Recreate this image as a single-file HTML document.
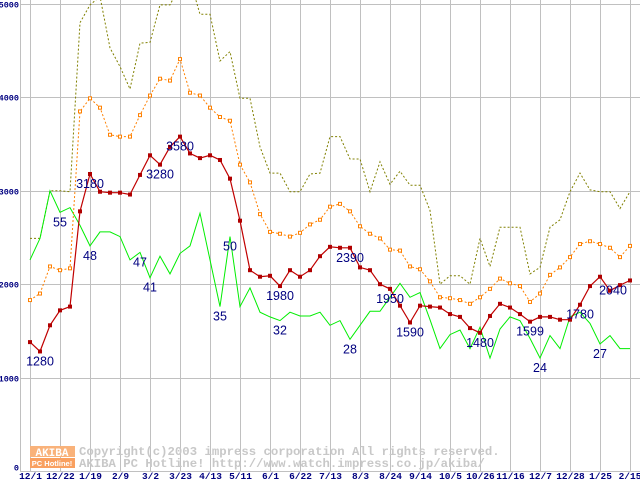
<!DOCTYPE html>
<html><head><meta charset="utf-8"><style>
html,body{margin:0;padding:0;background:#fff;width:640px;height:480px;overflow:hidden}
svg{display:block}
</style></head><body>
<svg id="chart" width="640" height="480" viewBox="0 0 640 480" xmlns="http://www.w3.org/2000/svg">
<g id="grid"></g>
<g id="watermark">
  <rect x="30" y="446" width="45" height="11" fill="#f9b27a"/>
  <rect x="30" y="458" width="45" height="10" fill="#f9a060"/>
  <text x="52" y="456" text-anchor="middle" font-family="Liberation Mono, monospace" font-weight="bold" font-size="11" fill="#fff">AKIBA</text>
  <text x="52" y="466" text-anchor="middle" font-family="Liberation Sans, sans-serif" font-weight="bold" font-size="7.5" fill="#fff">PC Hotline!</text>
  <text x="79" y="455" font-family="Liberation Mono, monospace" font-weight="bold" font-size="12.3" fill="#c8c8c8">Copyright(c)2003 impress corporation All rights reserved.</text>
  <text x="79" y="467" font-family="Liberation Mono, monospace" font-weight="bold" font-size="12.3" fill="#c8c8c8">AKIBA PC Hotline!  http://www.watch.impress.co.jp/akiba/</text>
</g>
<g id="series" clip-path="url(#plotclip)"></g>
<g id="labels"></g>
<g id="axes"></g>
<defs><clipPath id="plotclip"><rect x="20" y="0" width="620" height="472"/></clipPath></defs>
</svg>
<script>
const xTickLabels = ["12/1","12/22","1/19","2/9","3/2","3/23","4/13","5/11","6/1","6/22","7/13","8/3","8/24","9/14","10/5","10/26","11/16","12/7","12/28","1/25","2/15"];
const yTicks = [0,1000,2000,3000,4000,5000];
const redSeries = [1380,1280,1560,1720,1760,2780,3180,2990,2980,2980,2960,3170,3380,3280,3470,3580,3400,3350,3380,3330,3130,2680,2150,2080,2090,1980,2150,2080,2150,2300,2400,2390,2390,2180,2150,2000,1950,1770,1590,1770,1760,1750,1680,1650,1530,1480,1660,1790,1750,1680,1599,1650,1650,1620,1620,1780,1980,2080,1930,1990,2040];
const orangeSeries = [1830,1900,2190,2150,2170,3850,3990,3890,3600,3580,3580,3810,4020,4200,4180,4410,4050,4020,3890,3790,3750,3280,3090,2750,2560,2540,2510,2550,2640,2690,2830,2860,2780,2620,2540,2490,2370,2360,2190,2160,2030,1860,1850,1830,1790,1860,1950,2060,2010,1980,1810,1900,2100,2180,2290,2430,2460,2430,2390,2290,2410];
const oliveSeries = [2490,2490,3000,3000,2990,4800,4990,5080,4530,4330,4090,4580,4590,4990,4990,5200,5260,4890,4890,4390,4490,3990,3990,3470,3190,3190,2990,2990,3180,3190,3580,3580,3340,3340,2990,3310,3070,3210,3060,3060,2790,2000,2090,2090,2000,2490,2190,2610,2610,2610,2110,2180,2610,2690,2990,3190,3010,2990,2990,2810,2990];
const greenSeries = [2260,2490,3000,2770,2820,2630,2410,2560,2560,2510,2260,2340,2070,2300,2110,2330,2410,2760,2260,1760,2510,1760,1960,1700,1650,1610,1700,1660,1660,1700,1560,1610,1410,1560,1710,1710,1860,2010,1860,1910,1620,1310,1460,1510,1310,1540,1210,1520,1650,1610,1420,1210,1450,1310,1650,1700,1580,1360,1450,1310,1310];
const redLabelIdx = [1,6,13,15,25,32,36,38,45,50,55,60];
const greenLabelIdx = [3,6,11,12,19,20,25,32,51,57];
const greenLabelText = ["55","48","47","41","35","50","32","28","24","27"];

const NS = "http://www.w3.org/2000/svg";
const X0 = 30, XSTEP = 10, Y0 = 471, YPER = 93.4/1000;
function xScale(i){ return X0 + i*XSTEP; }
function yScale(v){ return Y0 - v*YPER; }
function mk(tag, attrs, parent){
  const e = document.createElementNS(NS, tag);
  for (const k in attrs) e.setAttribute(k, attrs[k]);
  parent.appendChild(e); return e;
}
const grid = document.getElementById('grid');
const axes = document.getElementById('axes');
const series = document.getElementById('series');
const labels = document.getElementById('labels');

yTicks.forEach(v=>{
  const y = Math.round(yScale(v))+0.5;
  const l = mk('line',{x1:20,x2:640,y1:y,y2:y,stroke:'#c0c0c0','stroke-width':1},grid);
  
  
  const t = mk('text',{x:v===0?19:19,y:v===0?y-1:y+3,'text-anchor':'end','font-family':'Liberation Mono, monospace','font-weight':'bold','font-size':8.5,fill:'#000080'},axes);
  t.textContent = v;
  
  
});
const ax = mk('line',{x1:20.5,x2:20.5,y1:0,y2:472,stroke:'#c0c0c0','stroke-width':1},grid);


xTickLabels.forEach((lab,k)=>{
  const x = Math.round(xScale(k*3))+0.5;
  const l = mk('line',{x1:x,x2:x,y1:0,y2:472,stroke:'#c0c0c0','stroke-width':1},grid);
  
  
  const t = mk('text',{x:Math.min(x,630),y:479,'text-anchor':'middle','font-family':'Liberation Mono, monospace','font-weight':'bold','font-size':9.5,fill:'#000080'},axes);
  t.textContent = lab;
  
  
});
function pts(arr){ return arr.map((v,i)=>xScale(i)+','+yScale(v).toFixed(1)).join(' '); }

const og = mk('polyline',{points:pts(oliveSeries),fill:'none',stroke:'#808000','stroke-width':1,'stroke-dasharray':'2,2'},series);


const gr = mk('polyline',{points:pts(greenSeries),fill:'none',stroke:'#00ee00','stroke-width':1},series);


const orl = mk('polyline',{points:pts(orangeSeries),fill:'none',stroke:'#ff8000','stroke-width':1,'stroke-dasharray':'2,2'},series);


orangeSeries.forEach((v,i)=>{
  const r = mk('rect',{x:xScale(i)-1.5,y:yScale(v)-1.5,width:3,height:3,fill:'#fff',stroke:'#ff8000','stroke-width':1},series);
  
  
});
const rl = mk('polyline',{points:pts(redSeries),fill:'none',stroke:'#c00000','stroke-width':1.2},series);


redSeries.forEach((v,i)=>{
  const r = mk('rect',{x:xScale(i)-2,y:yScale(v)-2,width:4,height:4,fill:'#b00000'},series);
  
  
});
redLabelIdx.forEach(i=>{
  const t = mk('text',{x:Math.min(xScale(i),613),y:yScale(redSeries[i])+14,'text-anchor':'middle','font-family':'Liberation Sans, sans-serif','font-size':12.5,fill:'#000080'},labels);
  t.textContent = redSeries[i];
  
  
});
greenLabelIdx.forEach((i,k)=>{
  const t = mk('text',{x:xScale(i),y:yScale(greenSeries[i])+14,'text-anchor':'middle','font-family':'Liberation Sans, sans-serif','font-size':12.5,fill:'#000080'},labels);
  t.textContent = greenLabelText[k];
  
  
});
</script>
</body></html>
